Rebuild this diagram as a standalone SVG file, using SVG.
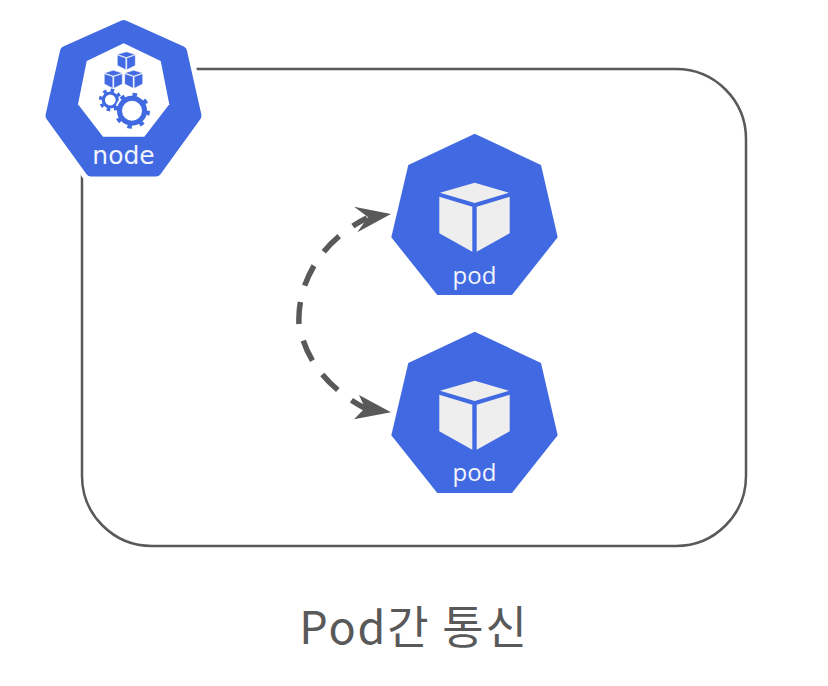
<svg xmlns="http://www.w3.org/2000/svg" xmlns:xlink="http://www.w3.org/1999/xlink" width="828" height="686" viewBox="0 0 828 686">
<style>
.frame{fill:none;stroke:#595959;stroke-width:2.5}
.hept{fill:#4169e1}
.face{fill:#eeeeee}
.dash{fill:none;stroke:#595959;stroke-width:5.5;stroke-dasharray:22 17}
.head{fill:#595959}
.lbl{fill:#f2f4fb;font-family:"Open Sans","DejaVu Sans",sans-serif;text-anchor:middle}
.title{fill:#595959;font-family:"Noto Sans CJK KR",sans-serif;font-size:45px;letter-spacing:1.8px;text-anchor:middle}
.mini{fill:#4169e1;stroke:#ffffff;stroke-width:.5}
</style>
<defs>
<g id="pod-shape">
<polygon class="hept" points="474.7,133.7 541,165 557.7,237.3 512,295 437.3,295 391.3,237.3 408.3,165"/>
<polygon class="face" points="474.7,182.7 509,192.7 474.7,203 440,192.7"/>
<polygon class="face" points="439.3,196.7 472.3,206.7 472.3,251.7 439.3,233.3"/>
<polygon class="face" points="476.7,206.7 509.7,196.7 509.7,233.3 476.7,251.7"/>
</g>
<g id="mini-cube">
<polygon class="mini" points="0,-9 9,-6.200 0,-3.200 -9,-6.200"/>
<polygon class="mini" points="-9,-5.600 -0.500,-2.800 -0.500,9 -9,4.800"/>
<polygon class="mini" points="0.500,-2.800 9,-5.600 9,4.800 0.500,9"/>
</g>
</defs>
<rect class="frame" x="82" y="69" width="664" height="477" rx="70" ry="70"/>
<g id="connectors">
<path class="dash" d="M299 324C297 282 322 240 367 218"/>
<path class="dash" d="M303.3 340.7C311 365 332 391 365 408.3"/>
<polygon class="head" points="391,214 354,206.7 368,217 357.3,232.3"/>
<polygon class="head" points="391,412.3 359,395 365,408 354,419.3"/>
</g>
<g id="node">
<polygon points="123.700,22 185,49 200,116.500 158.500,174 88.500,174 47,116.500 62,49" fill="#ffffff" stroke="#ffffff" stroke-width="14" stroke-linejoin="round"/>
<polygon class="hept" points="123.700,25.500 181.500,51.500 196,115.800 156,171 91,171 51,115.800 65.500,51.500" stroke="#4169e1" stroke-width="11" stroke-linejoin="round"/>
<polygon points="123.700,43.300 160.700,61 169.300,104.300 144.300,136.700 103,136.700 78,104.300 86.700,61" fill="#ffffff"/>
<use href="#mini-cube" x="126.300" y="60.700"/>
<use href="#mini-cube" x="113.300" y="79.300"/>
<use href="#mini-cube" x="133.700" y="79.300"/>
<g fill="none" stroke="#4169e1">
<circle cx="110.300" cy="100" r="7" stroke-width="3.200"/>
<circle cx="110.300" cy="100" r="9.800" stroke-width="3.200" stroke-dasharray="3.600 4.100"/>
<circle cx="132" cy="110.700" r="15" stroke="#ffffff" stroke-width="4" fill="#ffffff"/>
<circle cx="132" cy="110.700" r="12.500" stroke-width="5"/>
<circle cx="132" cy="110.700" r="16" stroke-width="4" stroke-dasharray="4.500 8.070"/>
</g>
<text x="123.500" y="164" font-size="25" fill="#f2f4fb" text-anchor="middle" font-family="'DejaVu Sans',sans-serif">node</text>
</g>
<g id="pod-1">
<use href="#pod-shape"/>
<text class="lbl" x="474.500" y="284" font-size="24">pod</text>
</g>
<g id="pod-2">
<use href="#pod-shape" y="198"/>
<text class="lbl" x="474.500" y="481" font-size="24">pod</text>
</g>
<text class="title" x="414" y="644">Pod간 통신</text>
</svg>
